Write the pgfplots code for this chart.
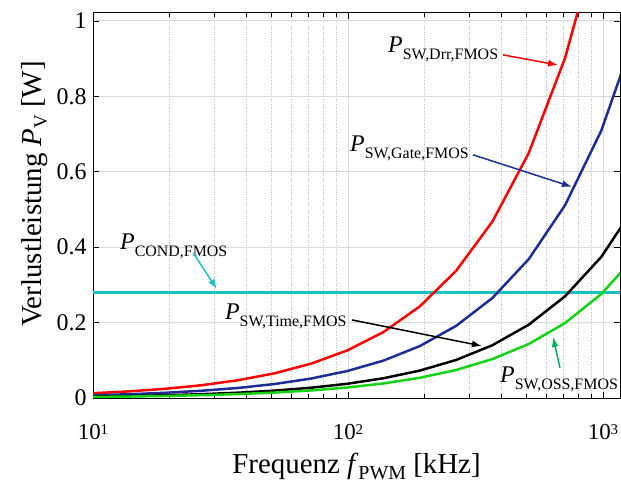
\documentclass[border=0pt]{standalone}
\usepackage{fontspec}
\setmainfont{Liberation Serif}
\usepackage{pgfplots}
\usepackage{pgfplotstable}
\pgfplotsset{compat=1.18}
\usetikzlibrary{arrows.meta}

\definecolor{cRed}{RGB}{255,0,0}
\definecolor{cBlue}{RGB}{28,45,150}
\definecolor{cGreen}{RGB}{20,210,20}
\definecolor{cCyan}{RGB}{25,195,200}
\definecolor{cArrowG}{RGB}{0,175,90}
\definecolor{cGrid}{RGB}{218,218,218}

% loss component label: italic symbol with lowered subscript
\newcommand{\lbl}[2]{\fontsize{24}{24}\selectfont\textit{#1}\raisebox{-7bp}{\fontsize{16}{16}\selectfont #2}}
\newcommand{\decade}[1]{10\raisebox{5bp}{\fontsize{15}{15}\selectfont #1}}

% switching and conduction losses over PWM frequency (kHz, W)
\pgfplotstableread{
f      red     blue    black   green
10     0.0127  0.0072  0.0038  0.0028
13.88  0.0176  0.0100  0.0053  0.0039
19.27  0.0245  0.0139  0.0073  0.0054
26.75  0.0340  0.0193  0.0102  0.0075
37.13  0.0472  0.0267  0.0141  0.0104
51.54  0.0655  0.0371  0.0196  0.0144
71.54  0.0909  0.0515  0.0272  0.0200
99.3   0.1261  0.0715  0.0377  0.0278
137.8  0.1750  0.0992  0.0524  0.0386
191.3  0.2430  0.1377  0.0727  0.0536
265.5  0.3372  0.1912  0.1009  0.0743
368.5  0.4680  0.2653  0.1400  0.1032
511.5  0.6496  0.3683  0.1944  0.1432
710    0.9017  0.5112  0.2698  0.1988
985.5  1.2516  0.7096  0.3745  0.2759
1368   1.7374  0.9850  0.5198  0.3830
}\losses

\pgfplotstableread{
f     cond
10    0.28
1368  0.28
}\cond

\begin{document}
\begin{tikzpicture}
\begin{axis}[
  scale only axis,
  width=527bp, height=385bp,
  xmode=log,
  xmin=10, xmax=1166, ymin=0, ymax=1.021,
  xtick={10,100,1000},
  xticklabels={\decade{1},\decade{2},\decade{3}},
  minor xtick={20,30,40,50,60,70,80,90,200,300,400,500,600,700,800,900},
  ytick={0,0.2,0.4,0.6,0.8,1},
  yticklabels={0,0.2,0.4,0.6,0.8,1},
  tick pos=both,
  xticklabel pos=lower, yticklabel pos=left,
  tick align=inside,
  major tick length=6bp, minor tick length=4bp,
  tick style={black, line width=0.8pt},
  axis line style={black, line width=1pt},
  xmajorgrids, xminorgrids, ymajorgrids,
  major grid style={cGrid, line width=0.9pt},
  minor grid style={gray!50, dotted, line width=0.6pt},
  xticklabel style={font=\fontsize{23}{23}\selectfont, anchor=base, yshift=-41bp},
  yticklabel style={font=\fontsize{24}{24}\selectfont, xshift=-3bp},
  xlabel={Frequenz \textit{f}\raisebox{-6bp}{\fontsize{20}{20}\selectfont PWM} [kHz]},
  ylabel={Verlustleistung \textit{P}\raisebox{-5bp}{\fontsize{19}{19}\selectfont V} [W]},
  xlabel style={font=\fontsize{29}{29}\selectfont, at={(axis description cs:0.5,-0.197)}, anchor=base},
  ylabel style={font=\fontsize{29}{29}\selectfont, at={(axis description cs:-0.0968,0.53)}, anchor=base},
]
\addplot[cCyan, line width=2.5pt] table[x=f, y=cond] {\cond};
\addplot[cRed, line width=2.5pt] table[x=f, y=red] {\losses};
\addplot[cBlue, line width=2.5pt] table[x=f, y=blue] {\losses};
\addplot[black, line width=2.5pt] table[x=f, y=black] {\losses};
\addplot[cGreen, line width=2.5pt] table[x=f, y=green] {\losses};

\node[anchor=base west, inner sep=0pt] at (axis cs:143.5,0.915) {\lbl{P}{SW,Drr,FMOS}};
\draw[cRed, line width=1.5pt, -{Latex[length=10bp,width=7bp]}] (axis cs:405,0.91) -- (axis cs:667,0.883);

\node[anchor=base west, inner sep=0pt] at (axis cs:101.8,0.6525) {\lbl{P}{SW,Gate,FMOS}};
\draw[cBlue, line width=1.5pt, -{Latex[length=10bp,width=7bp]}] (axis cs:309,0.645) -- (axis cs:755,0.56);

\node[anchor=base west, inner sep=0pt] at (axis cs:12.76,0.395) {\lbl{P}{COND,FMOS}};
\draw[cCyan, line width=1.5pt, -{Latex[length=10bp,width=7bp]}] (axis cs:24.7,0.385) -- (axis cs:30.6,0.289);

\node[anchor=base west, inner sep=0pt] at (axis cs:32.9,0.207) {\lbl{P}{SW,Time,FMOS}};
\draw[black, line width=1.5pt, -{Latex[length=10bp,width=7bp]}] (axis cs:103.7,0.207) -- (axis cs:335,0.138);

\node[anchor=base west, inner sep=0pt] at (axis cs:394.6,0.0398) {\lbl{P}{SW,OSS,FMOS}};
\draw[cArrowG, line width=1.5pt, -{Latex[length=10bp,width=7bp]}] (axis cs:678,0.0796) -- (axis cs:637,0.162);
\end{axis}
\pgfresetboundingbox
\path (-93bp,-85bp) rectangle (528bp,398bp);
\end{tikzpicture}
\end{document}
